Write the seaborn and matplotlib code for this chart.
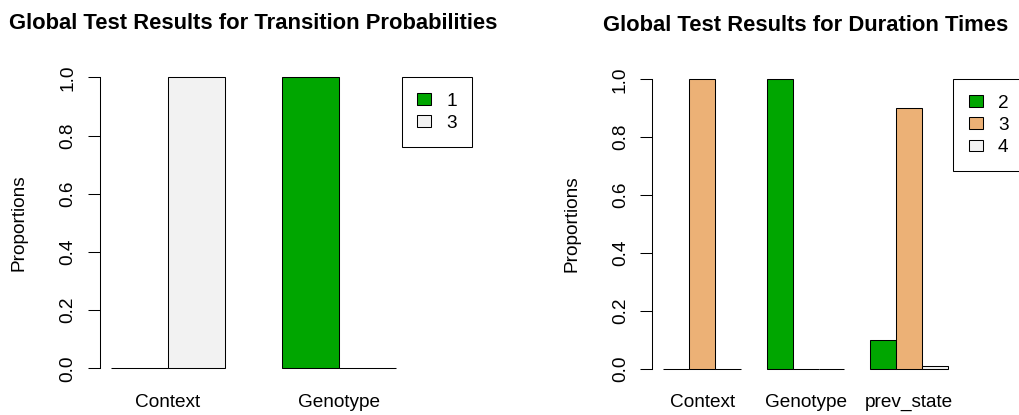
import matplotlib
matplotlib.use("Agg")
import matplotlib.pyplot as plt
from matplotlib.patches import Patch
import numpy as np
import pandas as pd
import seaborn as sns

# --- data -----------------------------------------------------------------
tp_factors = ["Context", "Genotype"]
tp_states = ["1", "3"]
tp_state1 = [0.0, 1.0]
tp_state3 = [1.0, 0.0]
tp_colors = ["#00A600", "#F2F2F2"]

dt_factors = ["Context", "Genotype", "prev_state"]
dt_states = ["2", "3", "4"]
dt_state2 = [0.0, 1.0, 0.10]
dt_state3 = [1.0, 0.0, 0.90]
dt_state4 = [0.0, 0.0, 0.01]
dt_colors = ["#00A600", "#ECB176", "#F2F2F2"]

y_ticks = [0.0, 0.2, 0.4, 0.6, 0.8, 1.0]

# --- figure ---------------------------------------------------------------
sns.set_style("white")
plt.rcParams["font.family"] = ["Liberation Sans", "DejaVu Sans"]
plt.rcParams["text.color"] = "black"
plt.rcParams["axes.labelcolor"] = "black"
plt.rcParams["xtick.color"] = "black"
plt.rcParams["ytick.color"] = "black"

W, H, DPI = 1019, 415, 100
fig = plt.figure(figsize=(W / DPI, H / DPI), dpi=DPI)
fig.patch.set_facecolor("white")

FS = 13.7
TITLE_FS = 15.8


def px_axes(x0, x1, ytop, ybot):
    return fig.add_axes([x0 / W, 1 - ybot / H, (x1 - x0) / W, (ybot - ytop) / H])


def long_frame(factors, states, series):
    rows = []
    for st, vals in zip(states, series):
        for f, v in zip(factors, vals):
            rows.append({"factor": f, "state": st, "prop": v})
    return pd.DataFrame(rows)


def draw_panel(ax, df, factors, states, colors, width, xlim, title,
               legend_xy):
    sns.barplot(data=df, x="factor", y="prop", hue="state",
                order=factors, hue_order=states, palette=colors,
                width=width, errorbar=None, edgecolor="black",
                linewidth=0.75, saturation=1, legend=False, ax=ax)
    ax.set_xlim(*xlim)
    ax.set_ylim(-0.04, 1.04)
    ax.set_facecolor("white")
    for side in ["top", "right", "bottom"]:
        ax.spines[side].set_visible(False)
    ax.spines["left"].set_bounds(0, 1)
    ax.spines["left"].set_color("black")
    ax.spines["left"].set_linewidth(0.75)

    ax.set_yticks(y_ticks)
    ax.set_yticklabels([f"{v:.1f}" for v in y_ticks])
    ax.tick_params(axis="y", direction="out", length=8.6, width=0.75,
                   color="black", labelcolor="black", pad=8.0,
                   labelsize=FS, left=True)
    for lab in ax.get_yticklabels():
        lab.set_rotation(90)
        lab.set_va("center")
    ax.tick_params(axis="x", length=0, pad=10.0, labelsize=FS,
                   labelcolor="black")

    ax.set_xlabel("")
    ax.set_ylabel("Proportions", fontsize=FS, color="black")
    ax.set_title(title, fontsize=TITLE_FS, fontweight="bold", pad=26.5,
                 color="black")

    handles = [Patch(facecolor=c, edgecolor="black", linewidth=0.75)
               for c in colors]
    leg = ax.legend(handles, states, loc="upper left",
                    bbox_to_anchor=(legend_xy[0] / W, 1 - legend_xy[1] / H),
                    bbox_transform=fig.transFigure, borderaxespad=0,
                    fontsize=FS, frameon=True, fancybox=False,
                    handlelength=0.75, handleheight=0.58,
                    handletextpad=0.8, labelspacing=0.28, borderpad=0.8)
    for t in leg.get_texts():
        t.set_color("black")
    fr = leg.get_frame()
    fr.set_edgecolor("black")
    fr.set_linewidth(0.75)
    fr.set_alpha(1)
    leg.set_clip_on(False)
    return ax


# Transition probabilities panel
ax1 = px_axes(99.6, 407.4, 65.7, 379.9)
tp_df = long_frame(tp_factors, tp_states, [tp_state1, tp_state3])
draw_panel(ax1, tp_df, tp_factors, tp_states, tp_colors, 2 / 3,
           (-0.4, 1.4), "Global Test Results for Transition Probabilities",
           (401.7, 77.3))
ax1.yaxis.set_label_coords(-(99.6 - 27.5) / (407.4 - 99.6), 0.5)

# Duration times panel
ax2 = px_axes(651.9, 959.4, 67.7, 380.6)
dt_df = long_frame(dt_factors, dt_states, [dt_state2, dt_state3, dt_state4])
draw_panel(ax2, dt_df, dt_factors, dt_states, dt_colors, 0.75,
           (-0.485, 2.485), "Global Test Results for Duration Times",
           (953.3, 79.3))
ax2.yaxis.set_label_coords(-(651.9 - 580.0) / (959.4 - 651.9), 0.5)

fig.savefig("out.png", dpi=DPI, facecolor="white")
